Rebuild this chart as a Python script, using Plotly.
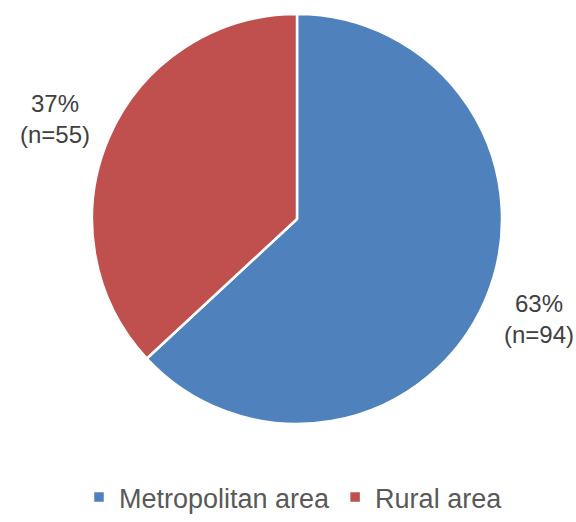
import math
import plotly.graph_objects as go

# Respondent counts by area type
categories = ["Metropolitan area", "Rural area"]
counts = [94, 55]
colors = ["#4F81BD", "#C0504D"]

W, H = 576, 522
cx, cy, r = 297, 219, 205      # pie centre and radius in pixels
label_rx, label_ry = 264, 250  # label ring (horizontal / vertical reach from the centre)
FONT = "Liberation Sans, Arial, sans-serif"

fig = go.Figure(
    go.Pie(
        labels=categories,
        values=counts,
        sort=False,
        direction="clockwise",
        rotation=0,
        marker=dict(colors=colors, line=dict(color="white", width=2.5)),
        textinfo="none",
        hoverinfo="label+value+percent",
        domain=dict(x=[(cx - r) / W, (cx + r) / W], y=[1 - (cy + r) / H, 1 - (cy - r) / H]),
    )
)

# Slice labels placed outside each slice, along its mid-angle
total = sum(counts)
start = 0.0
for v in counts:
    frac = v / total
    mid = (start + frac / 2) * 2 * math.pi   # clockwise from 12 o'clock
    start += frac
    px = cx + label_rx * math.sin(mid)
    py = cy - label_ry * math.cos(mid)
    fig.add_annotation(
        x=px / W, y=1 - py / H, xref="paper", yref="paper",
        text=f"{round(frac * 100)}%<br>(n={v})",
        showarrow=False, xanchor="center", yanchor="middle",
        font=dict(family=FONT, size=24, color="#404040"),
    )

fig.update_layout(
    width=W,
    height=H,
    margin=dict(l=0, r=0, t=0, b=0),
    paper_bgcolor="white",
    plot_bgcolor="white",
    font=dict(family=FONT, color="#595959"),
    legend=dict(
        orientation="h",
        x=79 / W,
        xanchor="left",
        y=0,
        yanchor="bottom",
        font=dict(size=27, color="#595959"),
        itemwidth=30,
        traceorder="normal",
    ),
)

fig.write_html("out.html")
